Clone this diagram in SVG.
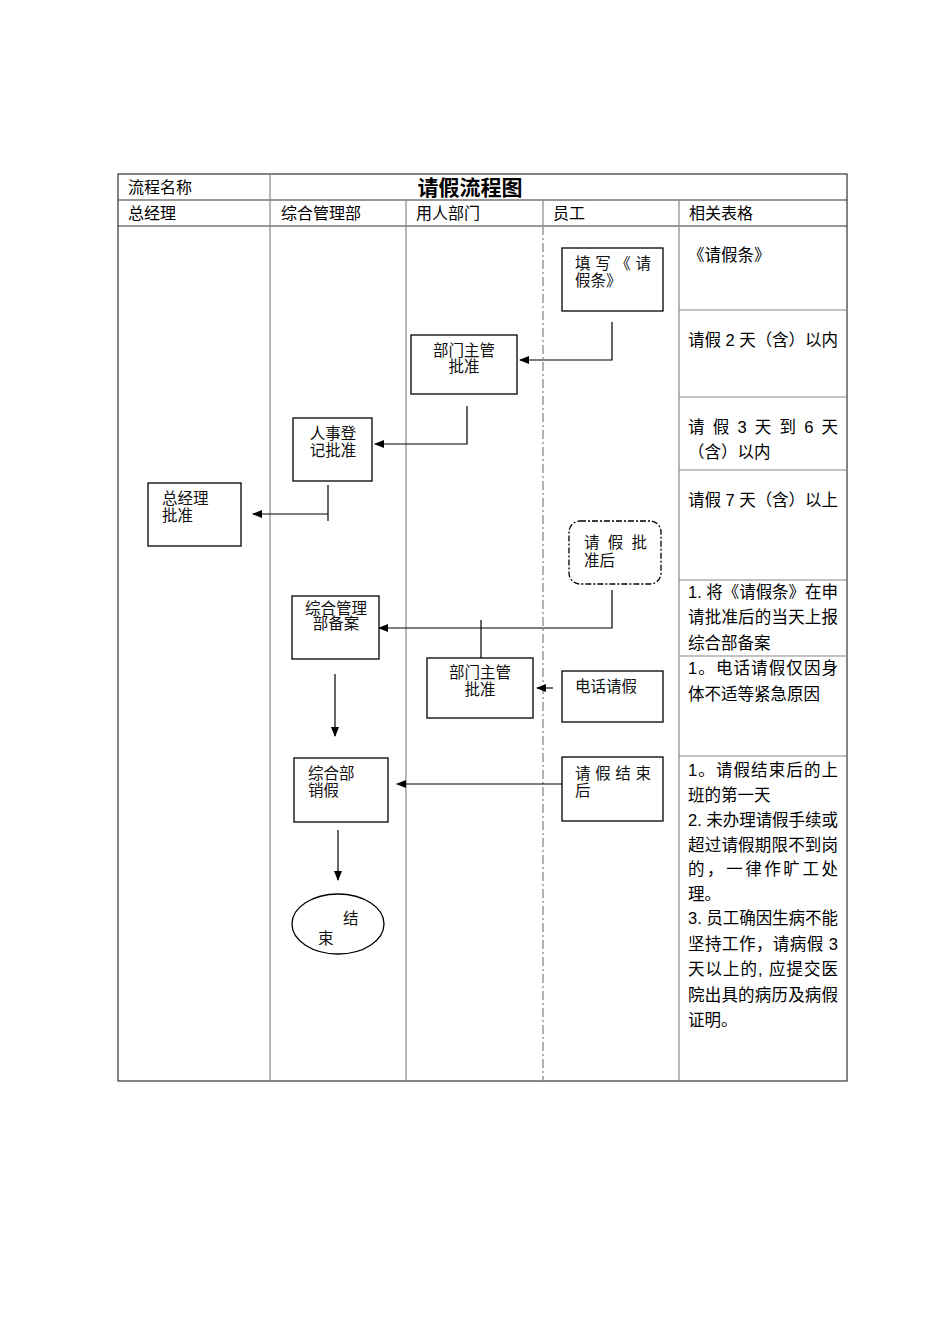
<svg xmlns="http://www.w3.org/2000/svg" width="950" height="1344" viewBox="0 0 950 1344">
<defs>
<style>
.t{font-family:"Liberation Sans","Noto Sans CJK SC",sans-serif;font-size:16px;fill:#000}
.b{font-family:"Liberation Sans","Noto Sans CJK SC",sans-serif;font-size:15.5px;fill:#111}
.r{font-family:"Liberation Sans","Noto Sans CJK SC",sans-serif;font-size:16.5px;fill:#000}
.box{fill:#fff;stroke:#000;stroke-width:1.3}
.ln{fill:none;stroke:#000;stroke-width:1.2}
.grid{stroke:#888;stroke-width:1.2;fill:none}
.frame{stroke:#333;stroke-width:1.2;fill:none}
</style>
<marker id="ah" markerWidth="10" markerHeight="8" refX="9" refY="4" orient="auto" markerUnits="userSpaceOnUse">
<path d="M0,0 L10,4 L0,8 Z" fill="#000"/>
</marker>
</defs>
<rect width="950" height="1344" fill="#fff"/>
<g id="table">
<rect class="frame" x="118" y="174" width="729" height="907"/>
<line class="frame" x1="118" y1="200" x2="847" y2="200"/>
<line class="frame" x1="118" y1="226" x2="847" y2="226"/>
<line class="grid" x1="270" y1="174" x2="270" y2="1081"/>
<line class="grid" x1="406" y1="200" x2="406" y2="1081"/>
<line class="grid" x1="543" y1="200" x2="543" y2="226"/>
<line x1="543" y1="226" x2="543" y2="1081" stroke="#999" stroke-width="1.5" stroke-dasharray="9,3,2,3"/>
<line class="grid" x1="679" y1="200" x2="679" y2="1081"/>
<line class="grid" x1="679" y1="310" x2="847" y2="310"/>
<line class="grid" x1="679" y1="397" x2="847" y2="397"/>
<line class="grid" x1="679" y1="470" x2="847" y2="470"/>
<line class="grid" x1="679" y1="580" x2="847" y2="580"/>
<line class="grid" x1="679" y1="656" x2="847" y2="656"/>
<line class="grid" x1="679" y1="756" x2="847" y2="756"/>
<text class="t" x="128" y="193">流程名称</text>
<text x="470" y="195" text-anchor="middle" font-family="'Liberation Sans','Noto Sans CJK SC',sans-serif" font-size="21" font-weight="bold">请假流程图</text>
<text class="t" x="128" y="219">总经理</text>
<text class="t" x="281" y="219">综合管理部</text>
<text class="t" x="416" y="219">用人部门</text>
<text class="t" x="553" y="219">员工</text>
<text class="t" x="689" y="219">相关表格</text>
</g>
<g id="notes">
<text class="r" x="688" y="261">《请假条》</text>
<text class="r" x="688" y="346" textLength="150" lengthAdjust="spacing">请假 2 天（含）以内</text>
<text class="r" x="688" y="433" textLength="150" lengthAdjust="spacing">请 假 3 天 到 6 天</text>
<text class="r" x="688" y="458">（含）以内</text>
<text class="r" x="688" y="506" textLength="150" lengthAdjust="spacing">请假 7 天（含）以上</text>
<text class="r" x="688" y="598" textLength="150" lengthAdjust="spacing">1. 将《请假条》在申</text>
<text class="r" x="688" y="623" textLength="150" lengthAdjust="spacing">请批准后的当天上报</text>
<text class="r" x="688" y="649">综合部备案</text>
<text class="r" x="688" y="674" textLength="150" lengthAdjust="spacing">1。电话请假仅因身</text>
<text class="r" x="688" y="700">体不适等紧急原因</text>
<text class="r" x="688" y="776" textLength="150" lengthAdjust="spacing">1。请假结束后的上</text>
<text class="r" x="688" y="801">班的第一天</text>
<text class="r" x="688" y="826" textLength="150" lengthAdjust="spacing">2. 未办理请假手续或</text>
<text class="r" x="688" y="851" textLength="150" lengthAdjust="spacing">超过请假期限不到岗</text>
<text class="r" x="688" y="875" textLength="150" lengthAdjust="spacing">的，一律作旷工处</text>
<text class="r" x="688" y="900">理。</text>
<text class="r" x="688" y="924" textLength="150" lengthAdjust="spacing">3. 员工确因生病不能</text>
<text class="r" x="688" y="950" textLength="150" lengthAdjust="spacing">坚持工作，请病假 3</text>
<text class="r" x="688" y="975" textLength="150" lengthAdjust="spacing">天以上的, 应提交医</text>
<text class="r" x="688" y="1001" textLength="150" lengthAdjust="spacing">院出具的病历及病假</text>
<text class="r" x="688" y="1026">证明。</text>
</g>
<g id="connectors">
<polyline class="ln" points="612,322 612,360 520,360" marker-end="url(#ah)"/>
<polyline class="ln" points="467,406 467,444 375,444" marker-end="url(#ah)"/>
<line class="ln" x1="328" y1="485" x2="328" y2="521"/>
<line class="ln" x1="328" y1="514" x2="253" y2="514" marker-end="url(#ah)"/>
<polyline class="ln" points="612,590 612,628 379,628" marker-end="url(#ah)"/>
<line class="ln" x1="481" y1="620" x2="481" y2="658"/>
<line class="ln" x1="553" y1="688" x2="537" y2="688" marker-end="url(#ah)"/>
<line class="ln" x1="335" y1="674" x2="335" y2="736" marker-end="url(#ah)"/>
<line class="ln" x1="562" y1="784" x2="397" y2="784" marker-end="url(#ah)"/>
<line class="ln" x1="338" y1="830" x2="338" y2="880" marker-end="url(#ah)"/>
</g>
<g id="n-fill">
<rect class="box" x="562" y="248" width="101" height="63"/>
<text class="b" x="575" y="269" textLength="76" lengthAdjust="spacing">填 写 《 请</text>
<text class="b" x="575" y="286">假条》</text>
</g>
<g id="n-dept1">
<rect class="box" x="411" y="335" width="106" height="59"/>
<text class="b" x="464" y="356" text-anchor="middle">部门主管</text>
<text class="b" x="464" y="372" text-anchor="middle">批准</text>
</g>
<g id="n-hr">
<rect class="box" x="293" y="418" width="79" height="63"/>
<text class="b" x="333" y="439" text-anchor="middle">人事登</text>
<text class="b" x="333" y="456" text-anchor="middle">记批准</text>
</g>
<g id="n-gm">
<rect class="box" x="148" y="483" width="93" height="63"/>
<text class="b" x="162" y="504">总经理</text>
<text class="b" x="162" y="521">批准</text>
</g>
<g id="n-approved">
<rect x="569" y="521" width="92" height="63" rx="11" fill="#fff" stroke="#000" stroke-width="1.3" stroke-dasharray="6,2,2,2"/>
<text class="b" x="584" y="548" textLength="63" lengthAdjust="spacing">请 假 批</text>
<text class="b" x="584" y="566">准后</text>
</g>
<g id="n-file">
<rect class="box" x="292" y="596" width="87" height="63"/>
<text class="b" x="336" y="614" text-anchor="middle" font-size="13.5">综合管理</text>
<text class="b" x="336" y="629" text-anchor="middle" font-size="13.5">部备案</text>
</g>
<g id="n-dept2">
<rect class="box" x="427" y="658" width="106" height="60"/>
<text class="b" x="480" y="678" text-anchor="middle">部门主管</text>
<text class="b" x="480" y="695" text-anchor="middle">批准</text>
</g>
<g id="n-phone">
<rect class="box" x="562" y="671" width="101" height="51"/>
<text class="b" x="575" y="692">电话请假</text>
</g>
<g id="n-cancel">
<rect class="box" x="294" y="758" width="94" height="64"/>
<text class="b" x="308" y="779">综合部</text>
<text class="b" x="308" y="796">销假</text>
</g>
<g id="n-end-leave">
<rect class="box" x="562" y="757" width="101" height="64"/>
<text class="b" x="575" y="779" textLength="76" lengthAdjust="spacing">请 假 结 束</text>
<text class="b" x="575" y="796">后</text>
</g>
<g id="n-end">
<ellipse cx="338" cy="924" rx="46" ry="30" fill="#fff" stroke="#000" stroke-width="1.3"/>
<text class="b" x="343" y="924">结</text>
<text class="b" x="318" y="944">束</text>
</g>
</svg>
